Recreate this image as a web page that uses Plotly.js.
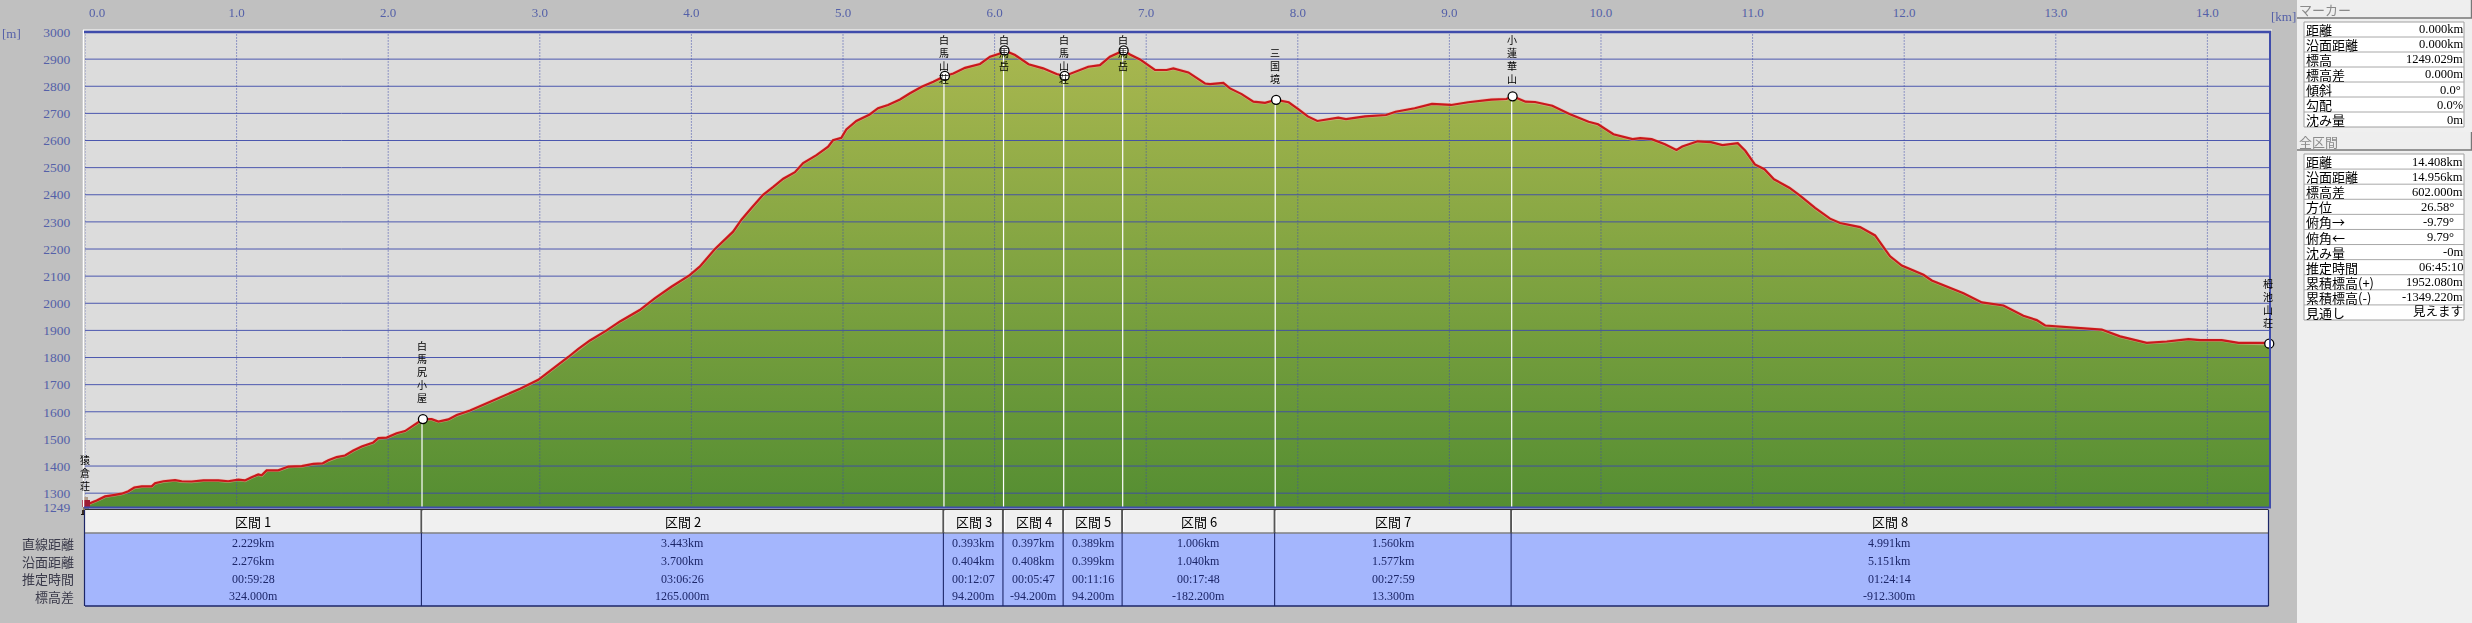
<!DOCTYPE html>
<html>
<head>
<meta charset="utf-8">
<script src="https://cdn.plot.ly/plotly-3.0.1.min.js"></script>
<style>html,body{margin:0;padding:0;background:#c0c0c0;overflow:hidden}</style>
</head>
<body>
<div id="chart" style="width:2472px;height:623px"></div>
<script>
const profileKm = [0,.033,.077,.132,.187,.242,.286,.325,.374,.44,.462,.517,.594,.638,.704,.781,.88,.945,1.011,1.055,1.099,1.143,1.165,1.198,1.275,1.341,1.429,1.506,1.568,1.605,1.66,1.715,1.77,1.825,1.902,1.935,1.99,2.056,2.111,2.166,2.22,2.229,2.287,2.331,2.397,2.452,2.54,2.65,2.76,2.87,2.99,3.056,3.133,3.188,3.254,3.331,3.441,3.529,3.659,3.758,3.868,3.989,4.055,4.154,4.275,4.33,4.396,4.473,4.54,4.606,4.683,4.737,4.825,4.902,4.934,4.989,5.022,5.088,5.176,5.231,5.297,5.376,5.442,5.519,5.596,5.672,5.728,5.805,5.904,5.97,6.036,6.065,6.135,6.224,6.32,6.409,6.462,6.541,6.618,6.695,6.761,6.851,6.893,6.959,7.014,7.058,7.135,7.179,7.278,7.322,7.388,7.421,7.509,7.553,7.63,7.707,7.784,7.857,7.94,8.003,8.066,8.129,8.267,8.318,8.444,8.582,8.645,8.771,8.885,9.011,9.124,9.276,9.376,9.417,9.502,9.565,9.679,9.792,9.918,9.981,10.082,10.208,10.259,10.334,10.422,10.498,10.536,10.637,10.725,10.801,10.902,10.952,11.015,11.078,11.141,11.242,11.313,11.412,11.511,11.577,11.709,11.808,11.907,11.984,12.127,12.182,12.281,12.391,12.512,12.655,12.786,12.874,12.93,13.05,13.182,13.303,13.424,13.6,13.732,13.875,13.952,14.095,14.205,14.392,14.408];
const profileElev = [1249,1263,1273,1288,1293,1298,1307,1321,1325,1325,1337,1344,1348,1344,1343,1347,1347,1344,1350,1347,1359,1369,1366,1384,1384,1398,1400,1408,1410,1421,1433,1439,1457,1472,1487,1503,1505,1521,1529,1550,1568,1573,1573,1564,1572,1588,1605,1632,1657,1685,1718,1746,1777,1802,1832,1863,1900,1933,1975,2018,2061,2104,2135,2199,2264,2308,2351,2400,2429,2459,2483,2517,2546,2577,2601,2610,2641,2672,2696,2719,2731,2751,2774,2798,2817,2838,2847,2868,2882,2909,2921,2932,2915,2881,2866,2845,2838,2854,2872,2878,2909,2932,2917,2899,2876,2860,2860,2866,2851,2835,2810,2808,2812,2792,2771,2743,2739,2750,2741,2716,2689,2672,2684,2679,2689,2694,2706,2719,2735,2731,2741,2751,2753,2763,2743,2742,2728,2698,2669,2660,2623,2605,2609,2605,2586,2565,2578,2597,2594,2583,2590,2562,2512,2494,2457,2426,2397,2352,2312,2296,2281,2250,2173,2139,2105,2084,2062,2037,2003,1992,1954,1938,1918,1913,1910,1903,1878,1854,1859,1868,1864,1864,1854,1854,1851];

const xTicks = [0,1,2,3,4,5,6,7,8,9,10,11,12,13,14];
const yTicks = [1249,1300,1400,1500,1600,1700,1800,1900,2000,2100,2200,2300,2400,2500,2600,2700,2800,2900,3000];

const pointNames = ['猿倉荘','白馬尻小屋','白馬山荘','白馬岳','白馬山荘','白馬岳','三国境','小蓮華山','栂池山荘'];
const pointElev = [1249,1573,2838,2932,2838,2932,2750,2763,1851];

const rowNames = ['直線距離','沿面距離','推定時間','標高差'];
const sectionLinear = [2.229,3.443,0.393,0.397,0.389,1.006,1.560,4.991];
const sectionSurface = ['2.276km','3.700km','0.404km','0.408km','0.399km','1.040km','1.577km','5.151km'];
const sectionTime = ['00:59:28','03:06:26','00:12:07','00:05:47','00:11:16','00:17:48','00:27:59','01:24:14'];
const sectionDiff = ['324.000m','1265.000m','94.200m','-94.200m','94.200m','-182.200m','13.300m','-912.300m'];

const markerLabels = ['距離','沿面距離','標高','標高差','傾斜','勾配','沈み量'];
const markerValues = ['0.000km','0.000km','1249.029m','0.000m','0.0°','0.0%','0m'];
const totalLabels = ['距離','沿面距離','標高差','方位','俯角→','俯角←','沈み量','推定時間','累積標高(+)','累積標高(-)','見通し'];
const totalValues = ['14.408km','14.956km','602.000m','26.58°','-9.79°','9.79°','-0m','06:45:10','1952.080m','-1349.220m','見えます'];

// ---- page geometry
const L=85,R=2270,T=32,B=507;
const W=R-L,H=B-T;
const px=p=>(p-L)/W;
const py=p=>(B-p)/H;
const yMin=1249,yMax=3000;
const elevPx=e=>T+(yMax-e)/(yMax-yMin)*H;
const SERIF='"Liberation Serif","Noto Sans CJK JP",serif';
const CJK='"Noto Sans CJK JP","Liberation Serif",sans-serif';
const BLUE='#3f4cab', LABEL='#5460a8', NAVY='#1c2668';

// cumulative section boundaries
const cum=[0]; sectionLinear.forEach(d=>cum.push(+(cum[cum.length-1]+d).toFixed(3)));

// grid (drawn as traces so it lies over the filled area)
const hx=[],hy=[]; yTicks.filter(v=>v!==yMin&&v!==yMax).forEach(v=>{hx.push(0,cum[8],null);hy.push(v,v,null);});
const vx=[],vy=[]; xTicks.forEach(v=>{vx.push(v,v,null);vy.push(1262,yMax,null);});
const sx=[],sy=[]; cum.slice(1).forEach((c,i)=>{ if(i<7){sx.push(c-0.006,c-0.006,null);sy.push(yMin,pointElev[i+1],null);} });

const traces=[
 {x:profileKm,y:profileElev,mode:'none',type:'scatter',fill:'tozeroy',
  fillgradient:{type:'vertical',start:1249,stop:2932,colorscale:[[0,'#558e32'],[1,'#a8b74f']]},hoverinfo:'skip'},
 {x:hx,y:hy,mode:'lines',line:{color:BLUE,width:1},opacity:.92,hoverinfo:'skip'},
 {x:vx,y:vy,mode:'lines',line:{color:BLUE,width:1,dash:'1px,2px'},cliponaxis:false,hoverinfo:'skip'},
 {x:sx,y:sy,mode:'lines',line:{color:'#ffffff',width:1.2},hoverinfo:'skip'},
 {x:profileKm,y:profileElev,mode:'lines',line:{color:'#f2b0a0',width:3.4},opacity:.55,hoverinfo:'skip'},
 {x:profileKm,y:profileElev,mode:'lines',line:{color:'#c9181c',width:2.2},hoverinfo:'skip'},
 {x:cum.slice(1),y:pointElev.slice(1),mode:'markers',cliponaxis:false,
  marker:{size:9,color:'#ffffff',line:{color:'#000000',width:1.3}},hoverinfo:'skip'}
];

const shapes=[], ann=[];
const rect=(x0,y0,x1,y1,fill,line,lw)=>shapes.push({type:'rect',xref:'paper',yref:'paper',x0:px(x0),x1:px(x1),y0:py(y0),y1:py(y1),fillcolor:fill,line:{color:line||'rgba(0,0,0,0)',width:line?(lw||1):0},layer:'above'});
const seg=(x0,y0,x1,y1,c,w)=>shapes.push({type:'line',xref:'paper',yref:'paper',x0:px(x0),x1:px(x1),y0:py(y0),y1:py(y1),line:{color:c,width:w||1},layer:'above'});
const text=(x,y,t,o={})=>ann.push({xref:'paper',yref:'paper',x:px(x),y:py(y),text:t,showarrow:false,xanchor:o.a||'center',yanchor:'middle',
  font:{family:o.f||SERIF,size:o.s||13,color:o.c||'#000000'},borderpad:0,borderwidth:0,captureevents:false});

// plot frame
seg(83.5,30,83.5,507,'#ffffff',1.5);
seg(83,30,2272,30,'#ffffff',1);
seg(84,32,2271,32,BLUE,2.6);
seg(84,507.5,2271,507.5,BLUE,2);
seg(2270,32,2270,507,BLUE,2);

// axis unit labels
text(11,34,'[m]',{c:LABEL,s:13});
text(2283,17,'[km]',{c:LABEL,s:13});

// section table
const colX=k=>L+k*151.6;
rect(85,510,2268.5,533,'#f0f0f0');
rect(85,533,2268.5,606,'#a4b6fd');
seg(85,509.5,2268.5,509.5,'#303030',1.2);
seg(85,533,2268.5,533,'#808080',1.5);
seg(84.5,510,84.5,606,NAVY,1.2);
seg(2268.5,510,2268.5,606,NAVY,1.2);
seg(85,606,2268.5,606,NAVY,1.4);
const rowY=[543,561,578.7,596];
rowNames.forEach((n,r)=>text(74,rowY[r],n,{a:'right',f:CJK,s:13,c:'#3a3a4a'}));
sectionLinear.forEach((d,i)=>{
  const a=colX(cum[i])-(i?1.5:0), b=colX(cum[i+1])-1.5, m=(a+b)/2+ (i==0?0:0.5);
  if(i<7){ seg(b,510,b,533,'#555555',2); seg(b,533,b,606,NAVY,1.1); seg(b+1.5,511,b+1.5,532,'#ffffff',1); }
  text(m,521.7,'区間 '+(i+1),{f:CJK,s:13});
  [d.toFixed(3)+'km',sectionSurface[i],sectionTime[i],sectionDiff[i]].forEach((v,r)=>text(m,rowY[r],v,{c:NAVY,s:12}));
});

// side panel
rect(2297,0,2472,623,'#efefef');
const panel=(hy0,hy1,title,ty0,ty1,labels,values)=>{
  rect(2297,hy0,2472,hy1,'#eeeeee');
  seg(2297,hy1,2472,hy1,'#777777',1.4);
  seg(2471.5,hy0,2471.5,hy1,'#777777',1.4);
  text(2299,(hy0+hy1)/2,title,{a:'left',f:CJK,s:13,c:'#8a8a8a'});
  rect(2304,ty0,2464,ty1,'#ffffff','#a0a0a0',1);
  const h=(ty1-ty0)/labels.length;
  labels.forEach((l,i)=>{
    const y=ty0+h*(i+.5);
    if(i) seg(2304,ty0+h*i,2464,ty0+h*i,'#a8a8a8',1);
    text(2306,y,l,{a:'left',f:CJK,s:13});
    const v=values[i];
    const right=/\d\.\d\d°$/.test(v)?2454:(v.endsWith('°')?2461:2463);
    text(right,y,v,{a:'right',s:12.5,f:SERIF});
  });
};
panel(0,18,'マーカー',22,127,markerLabels,markerValues);
panel(132,150,'全区間',154,320,totalLabels,totalValues);

// vertical place names, one glyph per line, anchored on the profile point
const FS=10, PITCH=13;
pointNames.forEach((name,i)=>{
  const chars=[...name], n=chars.length;
  const mk=elevPx(pointElev[i]);
  let top=mk-15-n*PITCH; if(top<33) top=33;
  const mid=top+n*PITCH/2;
  ann.push({xref:'x',yref:'y',x:cum[i]-(i>0&&i<=8?0.006:0),y:pointElev[i],yshift:mk-mid,
    text:chars.join('<br>'),showarrow:false,xanchor:'center',yanchor:'middle',align:'center',
    font:{family:CJK,size:FS,color:'#000000'},captureevents:false});
});

// walker icon at the start of the route
const walker='<svg xmlns="http://www.w3.org/2000/svg" width="10" height="18" viewBox="0 0 10 18" shape-rendering="crispEdges">'+
 '<rect x="3" y="0" width="4" height="3" fill="#b09a88"/><rect x="1" y="3" width="8" height="7" fill="#9c1c34"/>'+
 '<rect x="2" y="10" width="6" height="3" fill="#8a7a60"/><rect x="1" y="13" width="3" height="4" fill="#3a2c20"/><rect x="6" y="13" width="3" height="4" fill="#3a2c20"/>'+
 '<rect x="0" y="17" width="4" height="1" fill="#1a1410"/><rect x="6" y="17" width="4" height="1" fill="#1a1410"/></svg>';

const layout={
 width:2472,height:623,
 margin:{l:L,r:2472-R,t:T,b:623-B,pad:0},
 paper_bgcolor:'#c0c0c0',plot_bgcolor:'#dcdcdc',
 showlegend:false,hovermode:false,
 xaxis:{range:[0,14.413],side:'top',showgrid:false,zeroline:false,showline:false,
   tickmode:'array',tickvals:xTicks.map(v=>v===0?0.08:v),ticktext:xTicks.map(v=>v.toFixed(1)),
   ticks:'outside',ticklen:9,tickcolor:'rgba(0,0,0,0)',tickangle:0,
   tickfont:{family:SERIF,size:13,color:LABEL}},
 yaxis:{range:[yMin,yMax],showgrid:false,zeroline:false,showline:false,
   tickmode:'array',tickvals:yTicks,ticktext:yTicks.map(String),
   ticks:'outside',ticklen:11,tickcolor:'rgba(0,0,0,0)',
   tickfont:{family:SERIF,size:13.5,color:LABEL}},
 shapes:shapes,annotations:ann,
 images:[{source:'data:image/svg+xml;utf8,'+encodeURIComponent(walker),xref:'paper',yref:'paper',
   x:px(85.5),y:py(506),sizex:10/W,sizey:18/H,xanchor:'center',yanchor:'middle',sizing:'stretch',layer:'above'}]
};
Plotly.newPlot('chart',traces,layout,{displayModeBar:false,staticPlot:true});
</script>
</body>
</html>
